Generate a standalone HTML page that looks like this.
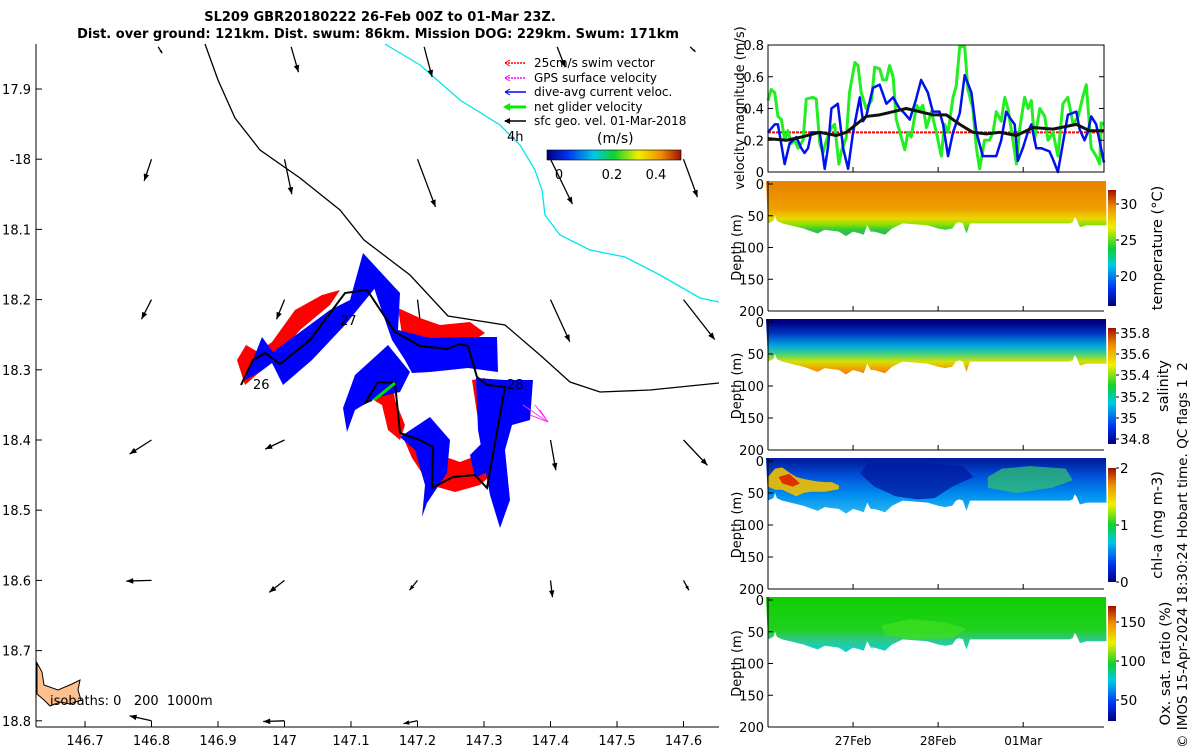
<!DOCTYPE html>
<html><head><meta charset="utf-8"><style>
html,body{margin:0;padding:0;background:#fff;}
svg{display:block;font-family:"DejaVu Sans","Liberation Sans",sans-serif;}
</style></head><body>
<svg id="fig" width="1200" height="750" viewBox="0 0 1200 750">
<defs>
<linearGradient id="jetv" x1="0" y1="1" x2="0" y2="0">
<stop offset="0" stop-color="#00007f"/><stop offset="0.15" stop-color="#0030f0"/><stop offset="0.35" stop-color="#00c8e8"/><stop offset="0.5" stop-color="#10d030"/><stop offset="0.68" stop-color="#f0f000"/><stop offset="0.85" stop-color="#f09000"/><stop offset="1" stop-color="#a01000"/>
</linearGradient>
<linearGradient id="jeth" x1="0" y1="0" x2="1" y2="0">
<stop offset="0" stop-color="#00007f"/><stop offset="0.15" stop-color="#0030f0"/><stop offset="0.35" stop-color="#00c8e8"/><stop offset="0.5" stop-color="#10d030"/><stop offset="0.68" stop-color="#f0f000"/><stop offset="0.85" stop-color="#f09000"/><stop offset="1" stop-color="#a01000"/>
</linearGradient>
<linearGradient id="gTemp" gradientUnits="userSpaceOnUse" x1="0" y1="184" x2="0" y2="240">
<stop offset="0" stop-color="#e88400"/><stop offset="0.45" stop-color="#f0a000"/><stop offset="0.62" stop-color="#e8d800"/><stop offset="0.72" stop-color="#90e000"/><stop offset="0.82" stop-color="#30c840"/><stop offset="1" stop-color="#20b060"/>
</linearGradient>
<linearGradient id="gSal" gradientUnits="userSpaceOnUse" x1="0" y1="322" x2="0" y2="375">
<stop offset="0" stop-color="#000080"/><stop offset="0.2" stop-color="#0030c0"/><stop offset="0.45" stop-color="#00a8e0"/><stop offset="0.6" stop-color="#40d080"/><stop offset="0.75" stop-color="#d8e000"/><stop offset="0.88" stop-color="#f0a000"/><stop offset="1" stop-color="#e88000"/>
</linearGradient>
<linearGradient id="gChl" gradientUnits="userSpaceOnUse" x1="0" y1="461" x2="0" y2="510">
<stop offset="0" stop-color="#0020a0"/><stop offset="0.3" stop-color="#0050d8"/><stop offset="0.7" stop-color="#0090f0"/><stop offset="1" stop-color="#20b0f0"/>
</linearGradient>
<linearGradient id="gOx" gradientUnits="userSpaceOnUse" x1="0" y1="600" x2="0" y2="650">
<stop offset="0" stop-color="#10d000"/><stop offset="0.6" stop-color="#20d020"/><stop offset="0.78" stop-color="#30c880"/><stop offset="1" stop-color="#10d0c8"/>
</linearGradient>
</defs>

<text x="380" y="21" text-anchor="middle" font-size="13" font-weight="bold">SL209 GBR20180222 26-Feb 00Z to 01-Mar 23Z.</text>
<text x="378" y="38" text-anchor="middle" font-size="13" font-weight="bold">Dist. over ground: 121km. Dist. swum: 86km. Mission DOG: 229km. Swum: 171km</text>

<g id="map">
<path d="M37,663 L42,672 L44,685 L58,690 L72,684 L80,680 L78,690 L81,700 L70,704 L60,702 L50,706 L44,700 L37,694 Z" fill="#fdc08e" stroke="#000" stroke-width="1"/>
<polyline points="205,44 218,80 235,118 260,150 300,178 340,210 364,240 410,275 448,316 505,325 540,355 570,382 600,392 650,390 719,383" fill="none" stroke="#000" stroke-width="1.3"/>
<polyline points="385,44 420,65 460,100 500,125 520,145 535,170 542,190 545,215 560,235 590,250 625,257 660,275 700,298 719,302" fill="none" stroke="#00e5ee" stroke-width="1.3"/>
<g id="arrows"></g>
<g fill="#f00">
<polygon points="237,360 246,345 258,352 272,342 295,310 322,295 340,290 330,305 300,330 278,356 262,370 245,385"/>
<polygon points="398,308 420,318 440,325 470,322 485,333 470,343 430,345 402,335"/>
<polygon points="365,395 374,380 392,378 395,400 405,425 400,440 388,430 382,405"/>
<polygon points="402,435 425,438 440,455 460,462 478,455 485,440 495,425 497,470 480,485 455,492 430,485 412,458"/>
<polygon points="472,380 485,378 490,405 485,430 478,420"/>
</g>
<g fill="#0000ff">
<polygon points="245,380 262,337 273,352 330,310 350,300 363,253 380,282 345,325 312,360 283,385 272,363 260,372"/>
<polygon points="363,253 400,293 398,330 430,338 468,337 497,337 498,372 468,368 430,372 412,373 405,360 392,340 378,300"/>
<polygon points="388,345 410,372 400,392 375,398 355,410 347,432 343,408 355,375"/>
<polygon points="476,378 505,380 533,380 530,420 512,425 505,450 510,500 500,528 490,495 478,430"/>
<polygon points="400,437 430,417 450,440 447,473 427,503 422,517 425,485 415,450"/>
<polygon points="470,455 485,440 492,470 475,478"/>
</g>
<polyline points="241,385 253,360 265,353 280,364 310,340 345,293 367,290 395,332 420,346 447,349 460,344 468,346 477,377 487,385 505,387 487,488 475,475 453,477 432,488 433,447 420,440 400,433 398,413 395,383 378,382 365,403 372,400" fill="none" stroke="#000" stroke-width="2"/>
<line x1="374" y1="400" x2="395" y2="383" stroke="#00e000" stroke-width="3"/>
<g stroke="#ff33ff" stroke-width="1" fill="none">
<line x1="523" y1="405" x2="548" y2="422"/><line x1="548" y1="422" x2="535" y2="405"/><line x1="548" y1="422" x2="530" y2="415"/><line x1="548" y1="422" x2="540" y2="410"/>
</g>
<text x="253" y="389" font-size="13">26</text>
<text x="340" y="325" font-size="13">27</text>
<text x="507" y="389" font-size="13">28</text>
<text x="50" y="705" font-size="13">isobaths: 0&#160;&#160;&#160;200&#160;&#160;1000m</text>
<g font-size="12">
<g><line x1="505" y1="63" x2="526" y2="63" stroke="#f00" stroke-width="1.5" stroke-dasharray="2,1"/><path d="M505,63 l5,-3 M505,63 l5,3" stroke="#f00"/><text x="534" y="67">25cm/s swim vector</text></g>
<g><line x1="505" y1="78" x2="526" y2="78" stroke="#f0f" stroke-width="1.5" stroke-dasharray="2,1"/><path d="M505,78 l5,-3 M505,78 l5,3" stroke="#f0f"/><text x="534" y="82">GPS surface velocity</text></g>
<g><line x1="505" y1="92" x2="526" y2="92" stroke="#0000ff" stroke-width="1.5"/><path d="M505,92 l5,-3 M505,92 l5,3" stroke="#00f"/><text x="534" y="96">dive-avg current veloc.</text></g>
<g><line x1="505" y1="107" x2="526" y2="107" stroke="#00f000" stroke-width="3"/><path d="M503,107 l7,-4 v8 z" fill="#00f000"/><text x="534" y="111">net glider velocity</text></g>
<g><line x1="505" y1="121" x2="526" y2="121" stroke="#000" stroke-width="1.5"/><path d="M504,121 l6,-3 v6 z"/><text x="534" y="125">sfc geo. vel. 01-Mar-2018</text></g>
<text x="507" y="141" font-size="13">4h</text>
<text x="597" y="143" font-size="14">(m/s)</text>
<rect x="547" y="150" width="134" height="10" fill="url(#jeth)" stroke="#000" stroke-width="0.6"/>
<g font-size="13" text-anchor="middle"><text x="559" y="179">0</text><text x="612" y="179">0.2</text><text x="656" y="179">0.4</text></g>
</g>
<g id="mapAxes"></g>
</g>

<g id="right"></g>

<text transform="translate(1187,748) rotate(-90)" font-size="13.5">© IMOS 15-Apr-2024 18:30:24 Hobart time. QC flags 1&#160;&#160;2</text>
</svg>
<script>
const NS='http://www.w3.org/2000/svg';
function mk(tag,attrs,parent){const e=document.createElementNS(NS,tag);for(const k in attrs)e.setAttribute(k,attrs[k]);parent.appendChild(e);return e;}

const mapXTicks=[146.7,146.8,146.9,147,147.1,147.2,147.3,147.4,147.5,147.6];
const mapYTicks=[17.9,18.0,18.1,18.2,18.3,18.4,18.5,18.6,18.7,18.8];
const mapYLabels=['17.9','-18','18.1','18.2','18.3','18.4','18.5','18.6','18.7','18.8'];
const mx=v=>85+(v-146.7)*665;
const my=v=>89+(v-17.9)*702;
const ma=document.getElementById('mapAxes');
mk('line',{x1:36,y1:44,x2:36,y2:727,stroke:'#000'},ma);
mk('line',{x1:36,y1:727,x2:719,y2:727,stroke:'#000'},ma);
mapXTicks.forEach(v=>{const x=mx(v);
  mk('line',{x1:x,y1:727,x2:x,y2:721,stroke:'#000'},ma);
  const t=mk('text',{x:x,y:745,'font-size':13,'text-anchor':'middle'},ma);t.textContent=String(v);
  
  });
mapYTicks.forEach((v,i)=>{const y=my(v);
  mk('line',{x1:36,y1:y,x2:42,y2:y,stroke:'#000'},ma);
  const t=mk('text',{x:31,y:y+5,'font-size':13,'text-anchor':'end'},ma);t.textContent=mapYLabels[i];
  
  });

const arrLon=[146.81,147.01,147.21,147.41,147.61, 146.80,147.00,147.20,147.40,147.60, 146.80,147.00,147.20,147.40,147.60, 146.80,147.00,147.20,147.40,147.60, 146.80,147.00,147.20,147.40,147.60, 146.80,147.00,147.20];
const arrLat=[17.84,17.84,17.84,17.84,17.84, 18.00,18.00,18.00,18.00,18.00, 18.20,18.20,18.20,18.20,18.20, 18.40,18.40,18.40,18.40,18.40, 18.60,18.60,18.60,18.60,18.60, 18.80,18.80,18.80];
const arrU=[0.006,0.011,0.012,0.012,0.008, -0.011,0.011,0.027,0.033,0.021, -0.015,-0.012,0.006,0.029,0.047, -0.033,-0.029,-0.012,0.008,0.036, -0.038,-0.023,-0.012,0.003,0.008, -0.033,-0.032,-0.021];
const arrV=[0.009,0.036,0.043,0.029,0.007, 0.031,0.050,0.068,0.064,0.054, 0.028,0.028,0.046,0.060,0.057, 0.020,0.013,0.004,0.043,0.036, 0.001,0.017,0.014,0.024,0.014, -0.007,0.001,0.004];
const ag=document.getElementById('arrows');
arrLon.forEach((lo,i)=>{
  const x1=mx(lo),y1=my(arrLat[i]);
  const x2=x1+arrU[i]*665,y2=y1+arrV[i]*702;
  const g=mk('g',{},ag);
  
  
  mk('line',{x1:x1,y1:y1,x2:x2,y2:y2,stroke:'#000','stroke-width':1.3},g);
  const dx=x2-x1,dy=y2-y1,L=Math.hypot(dx,dy)||1,ux=dx/L,uy=dy/L,h=Math.min(7,L*0.4);
  mk('polygon',{points:`${x2},${y2} ${x2-ux*h-uy*h*0.4},${y2-uy*h+ux*h*0.4} ${x2-ux*h+uy*h*0.4},${y2-uy*h-ux*h*0.4}`,fill:'#000'},g);
});

const R=document.getElementById('right');
const X0=768,X1=1104,HMAX=94.8;
const tx=h=>X0+(h/HMAX)*(X1-X0);
const gT=[0,0.9,1.9,2.8,3.8,4.7,5.6,6.6,7.5,8.5,9.9,10.8,12.7,13.6,14.6,15.5,16.5,17.9,18.8,20.0,20.7,22.1,23.0,24.5,25.4,26.3,27.7,29.2,30.1,31.5,32.4,33.4,34.3,35.3,36.2,37.6,38.6,39.5,40.4,41.9,42.8,43.7,44.7,46.1,47.5,48.9,49.8,50.8,52.2,53.1,54.1,55.5,56.4,57.8,58.8,59.7,61.1,62.5,63.5,64.4,65.8,66.8,67.7,69.1,70.1,71.0,72.4,73.4,74.3,75.2,76.7,78.1,79.0,80.4,81.8,83.2,84.6,86.1,87.5,88.9,89.8,91.2,92.6,93.6,94.0,94.8];
const gV=[0.45,0.52,0.5,0.35,0.33,0.2,0.26,0.18,0.2,0.15,0.2,0.46,0.47,0.46,0.18,0.12,0.2,0.28,0.3,0.05,0.13,0.22,0.5,0.69,0.67,0.5,0.4,0.45,0.66,0.65,0.58,0.58,0.67,0.6,0.33,0.22,0.14,0.25,0.22,0.42,0.39,0.42,0.28,0.38,0.25,0.1,0.3,0.25,0.47,0.54,0.79,0.79,0.52,0.4,0.15,0.02,0.2,0.2,0.25,0.38,0.32,0.47,0.4,0.2,0.05,0.27,0.47,0.4,0.45,0.2,0.4,0.35,0.2,0.25,0.1,0.43,0.47,0.3,0.35,0.48,0.55,0.15,0.1,0.05,0.31,0.3];
const bT=[0,1.9,2.8,4.7,6.1,8.0,9.4,10.3,11.3,12.2,13.6,14.6,16.0,16.9,17.9,19.7,21.2,22.6,24.0,25.9,26.8,27.7,29.6,31.5,33.4,35.3,37.1,38.5,40.0,41.8,43.2,45.1,46.5,48.4,49.4,50.8,52.2,54.1,55.5,57.4,58.8,60.6,62.0,63.5,64.4,65.8,67.2,68.6,69.6,70.5,71.9,73.3,74.3,75.7,77.1,79.4,80.4,81.8,83.2,84.6,87.0,87.9,89.3,90.2,91.2,92.6,93.5,94.8];
const bV=[0.25,0.3,0.3,0.05,0.18,0.22,0.15,0.12,0.15,0.25,0.25,0.25,0.02,0.15,0.4,0.43,0.15,0.02,0.25,0.47,0.32,0.35,0.53,0.55,0.43,0.47,0.4,0.37,0.33,0.46,0.58,0.5,0.38,0.38,0.3,0.1,0.25,0.37,0.61,0.5,0.25,0.1,0.1,0.1,0.1,0.2,0.38,0.33,0.3,0.07,0.15,0.25,0.3,0.15,0.15,0.13,0.08,0.0,0.18,0.36,0.38,0.27,0.2,0.25,0.35,0.3,0.2,0.06];
const kT=[0,5.2,9.4,14.6,19.3,22.1,24.9,27.7,31.5,35.3,39.0,42.8,46.5,50.3,54.1,57.8,61.6,65.4,70.1,74.8,80.4,87.0,90.7,94.8];
const kV=[0.21,0.2,0.22,0.25,0.23,0.25,0.3,0.35,0.36,0.38,0.4,0.38,0.36,0.36,0.3,0.25,0.24,0.25,0.23,0.28,0.27,0.3,0.26,0.26];
const swimV=[0.25];
const velTicks=[0,0.2,0.4,0.6,0.8];
const VY0=172,VY1=45;
const vy=v=>VY0-(v/0.8)*(VY0-VY1);
function line(ts,vs,color,w,name){
  const p=mk('polyline',{points:ts.map((t,i)=>tx(t)+','+vy(vs[i])).join(' '),fill:'none',stroke:color,'stroke-width':w,'stroke-linejoin':'round'},R);
  
  
}
const swim=mk('line',{x1:X0,x2:X1,y1:vy(swimV[0]),y2:vy(swimV[0]),stroke:'#f00','stroke-width':2,'stroke-dasharray':'3,1'},R);


line(gT,gV,'#22ee22',3,'net-glider-speed-line');
line(bT,bV,'#0010ee',2.5,'current-speed-line');
line(kT,kV,'#111',3,'sfc-geo-speed-line');
mk('rect',{x:X0,y:VY1,width:X1-X0,height:VY0-VY1,fill:'none',stroke:'#000'},R);
velTicks.forEach(v=>{const y=vy(v);
  mk('line',{x1:X0,x2:X0+5,y1:y,y2:y,stroke:'#000'},R);mk('line',{x1:X1,x2:X1-5,y1:y,y2:y,stroke:'#000'},R);
  const t=mk('text',{x:X0-4,y:y+5,'font-size':13,'text-anchor':'end'},R);t.textContent=String(v);
  
  });
{const t=mk('text',{transform:'translate(744,108) rotate(-90)','font-size':13,'text-anchor':'middle'},R);t.textContent='velocity magnitude (m/s)';
 
 }

const profT=[0,1.5,2,2.5,4,10,14,16,20,22,24,26,27,28,29,30,33,35,38,45,48,50,52,53,54,55,56,57,60,70,80,85,86,86.5,87,88,90,95.5];
const profD=[62,58,50,58,62,70,78,72,75,82,75,78,80,65,75,75,80,70,62,65,70,72,70,62,60,62,78,62,62,62,62,62,60,52,55,68,65,65];
const depthTicks=[0,50,100,150,200];
const panels=[
 {name:'temperature',top:184,bot:311,fill:'url(#gTemp)',cb:[190,306],label:'temperature (°C)',cbT:[30,25,20],cbY:[204,240,276]},
 {name:'salinity',top:322,bot:450,fill:'url(#gSal)',cb:[328,444],label:'salinity',cbT:['35.8','35.6','35.4','35.2','35','34.8'],cbY:[333,354,375,397,418,439]},
 {name:'chlorophyll',top:461,bot:589,fill:'url(#gChl)',cb:[468,582],label:'chl-a (mg m-3)',cbT:[2,1,0],cbY:[468,525,582]},
 {name:'oxygen',top:600,bot:727,fill:'url(#gOx)',cb:[606,721],label:'Ox. sat. ratio (%)',cbT:[150,100,50],cbY:[622,661,700]}
];
const dyFor=P=>(d=>P.top+(d/200)*(P.bot-P.top));
panels.forEach(P=>{
  const dy=dyFor(P);
  const pts=[[tx(0)-2,P.top-3]].concat(profT.map((t,i)=>[tx(t),dy(profD[i])])).concat([[tx(HMAX)+2,P.top-3]]);
  const poly=mk('polygon',{points:pts.map(p=>p.join(',')).join(' '),fill:P.fill},R);
  
  
});
// chlorophyll features
const chlPatchT=[0,2,4,6,8,10,12,14,16,18,20];
const chlPatchTop=[25,12,10,18,25,28,30,32,33,33,38];
const chlPatchBot=[40,45,45,50,55,50,48,48,48,46,44];
{const P=panels[2];const dy=dyFor(P);
 const dark=mk('polygon',{points:[[28,3],[45,3],[55,8],[58,25],[52,40],[47,58],[42,60],[36,55],[30,40],[26,20]].map(p=>tx(p[0])+','+dy(p[1])).join(' '),fill:'#0018a0',opacity:0.75},R);
 
 
 const east=mk('polygon',{points:[[62,25],[66,12],[74,8],[84,12],[86,30],[80,42],[70,50],[62,42]].map(p=>tx(p[0])+','+dy(p[1])).join(' '),fill:'#30c070',opacity:0.75},R);
 
 
 const pts=chlPatchT.map((t,i)=>tx(t)+','+dy(chlPatchTop[i])).concat(chlPatchT.slice().reverse().map((t,j)=>{const i=chlPatchT.length-1-j;return tx(t)+','+dy(chlPatchBot[i]);}));
 const g=mk('polygon',{points:pts.join(' '),fill:'#f0c000',opacity:0.9},R);
 
 
 const g2=mk('polygon',{points:[[3,25],[6,20],[9,35],[7,40],[4,35]].map(p=>tx(p[0])+','+dy(p[1])).join(' '),fill:'#e03000'},R);
 
 }
// oxygen slightly lighter-green mid patch
{const P=panels[3];const dy=dyFor(P);
 const p=mk('polygon',{points:[[32,40],[40,30],[50,35],[56,45],[52,60],[40,62],[33,55]].map(q=>tx(q[0])+','+dy(q[1])).join(' '),fill:'#40e020',opacity:0.7},R);
 
 }
panels.forEach(P=>{
  const dy=dyFor(P);
  mk('line',{x1:X0,y1:P.top-3,x2:X0,y2:P.bot,stroke:'#000'},R);
  mk('line',{x1:X0,y1:P.bot,x2:X1,y2:P.bot,stroke:'#000'},R);
  depthTicks.forEach(d=>{const y=dy(d);
    mk('line',{x1:X0,x2:X0+5,y1:y,y2:y,stroke:'#000'},R);
    const t=mk('text',{x:X0-4,y:y+5,'font-size':13,'text-anchor':'end'},R);t.textContent=String(d);
    
    });
  const yl=mk('text',{transform:`translate(741,${(P.top+P.bot)/2}) rotate(-90)`,'font-size':13,'text-anchor':'middle'},R);yl.textContent='Depth (m)';
  
  
  const cb=mk('rect',{x:1108,y:P.cb[0],width:8,height:P.cb[1]-P.cb[0],fill:'url(#jetv)'},R);
  
  
  P.cbT.forEach((v,i)=>{
    mk('line',{x1:1116,x2:1119,y1:P.cbY[i],y2:P.cbY[i],stroke:'#000'},R);
    const t=mk('text',{x:1120,y:P.cbY[i]+5,'font-size':13.5},R);t.textContent=String(v);
    
    });
  const lx=P.name==='salinity'?1168:(P.name==='oxygen'?1170:1162);
  const l=mk('text',{transform:`translate(${lx},${(P.cb[0]+P.cb[1])/2}) rotate(-90)`,'font-size':14.5,'text-anchor':'middle'},R);l.textContent=P.label;
  
  
});
const dateH=[24,48,72];
const dateL=['27Feb','28Feb','01Mar'];
dateH.forEach((h,i)=>{
  [[45,172],[184,311],[322,450],[461,589],[600,727]].forEach(b=>{mk('line',{x1:tx(h),x2:tx(h),y1:b[1],y2:b[1]-5,stroke:'#000'},R);});
  const t=mk('text',{x:tx(h),y:745,'font-size':12,'text-anchor':'middle'},R);t.textContent=dateL[i];
  
  });
</script>
</body></html>
